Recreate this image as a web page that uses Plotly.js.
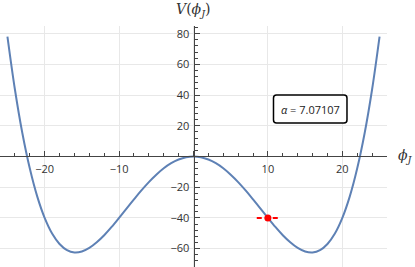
<!DOCTYPE html>
<html>
<head>
<meta charset="utf-8">
<script src="https://cdn.plot.ly/plotly-3.0.1.min.js"></script>
<style>html,body{margin:0;padding:0;background:#fff;}#plot{width:415px;height:267px;}</style>
</head>
<body>
<div id="plot"></div>
<script>
// Potential curve samples
const phiValues = [-25,-24,-23,-22,-21,-20,-19,-18,-17,-16,-15,-14,-13,-12,-11,-10,-9,-8,-7,-6,-5,-4,-3,-2,-1,0,
  1,2,3,4,5,6,7,8,9,10,11,12,13,14,15,16,17,18,19,20,21,22,23,24,25];
const vValues = [78.1,43.8,15.3,-7.7,-26.0,-40.0,-50.2,-57.0,-61.0,-62.5,-61.9,-59.6,-55.9,-51.3,-45.9,-40.0,-33.9,-27.9,-22.1,-16.7,-11.9,-7.7,-4.4,-2.0,-0.5,0,
  -0.5,-2.0,-4.4,-7.7,-11.9,-16.7,-22.1,-27.9,-33.9,-40.0,-45.9,-51.3,-55.9,-59.6,-61.9,-62.5,-61.0,-57.0,-50.2,-40.0,-26.0,-7.7,15.3,43.8,78.1];
// Marked point and its dashed level marker
const pointPhi = [10];
const pointV = [-40];
const dashPhi = [8.5, 11.5];
const dashV = [-40, -40];
// Ticks
const xTickVals = [-20,-10,0,10,20];
const xTickText = ['\u221220','\u221210','','10','20'];
const yTickVals = [-60,-40,-20,0,20,40,60,80];
const yTickText = ['\u221260','\u221240','\u221220','','20','40','60','80'];
const alphaLabel = '<i>\u03b1</i> = 7.07107';

const xRange = [-26, 26];
const yRange = [-72, 85];

const traces = [
  {x: phiValues, y: vValues, type: 'scatter', mode: 'lines',
   line: {color: '#5e81b5', width: 2, shape: 'spline'}, hoverinfo: 'skip'},
  {x: dashPhi, y: dashV, type: 'scatter', mode: 'lines',
   line: {color: '#ff0000', width: 2, dash: '5px,3px'}, hoverinfo: 'skip'},
  {x: pointPhi, y: pointV, type: 'scatter', mode: 'markers',
   marker: {color: '#ff0000', size: 7}, hoverinfo: 'skip'}
];

const axisCommon = {
  showline: true, linecolor: '#444', linewidth: 1,
  ticks: 'inside', ticklen: 5, tickwidth: 1, tickcolor: '#444',
  showgrid: true, gridcolor: '#e8e8e8', gridwidth: 1,
  zeroline: false, tickmode: 'array',
  tickfont: {family: 'Open Sans, sans-serif', size: 11, color: '#333'},
  anchor: 'free', fixedrange: true
};

const layout = {
  width: 415, height: 267,
  margin: {l: 0, r: 28, t: 26, b: 0},
  paper_bgcolor: '#fff', plot_bgcolor: '#fff',
  showlegend: false,
  xaxis: Object.assign({}, axisCommon, {
    range: xRange, tickvals: xTickVals, ticktext: xTickText,
    position: (0 - yRange[0]) / (yRange[1] - yRange[0]),
    ticklabelstandoff: 2,
    minor: {tickmode: 'linear', tick0: 0, dtick: 2, ticks: 'inside', ticklen: 3, tickcolor: '#444', showgrid: false}
  }),
  yaxis: Object.assign({}, axisCommon, {
    range: yRange, tickvals: yTickVals, ticktext: yTickText,
    position: (0 - xRange[0]) / (xRange[1] - xRange[0]),
    ticklabelstandoff: 2,
    minor: {tickmode: 'linear', tick0: 0, dtick: 4, ticks: 'inside', ticklen: 3, tickcolor: '#444', showgrid: false}
  }),
  shapes: [
    {type: 'path', xref: 'paper', yref: 'paper',
     path: 'M 0.7145 0.5975 L 0.8889 0.5975 Q 0.8966 0.5975 0.8966 0.610 L 0.8966 0.7012 Q 0.8966 0.7137 0.8889 0.7137 L 0.7145 0.7137 Q 0.7067 0.7137 0.7067 0.7012 L 0.7067 0.610 Q 0.7067 0.5975 0.7145 0.5975 Z',
     line: {color: '#000', width: 1.5}, fillcolor: '#fff'}
  ],
  annotations: [
    {xref: 'paper', yref: 'paper', x: 0.8016, y: 0.6556, text: alphaLabel, showarrow: false,
     font: {family: 'Open Sans, sans-serif', size: 11, color: '#222'}, xanchor: 'center', yanchor: 'middle'},
    {xref: 'paper', yref: 'paper', x: 0.5, y: 1, yshift: 16, text: '<i>V</i>(<i>\u03d5</i><sub><i>J</i></sub>)', showarrow: false,
     font: {family: 'DejaVu Serif, serif', size: 14, color: '#333'}, xanchor: 'center', yanchor: 'middle'},
    {xref: 'paper', yref: 'paper', x: 1, xshift: 18, y: (0 - yRange[0]) / (yRange[1] - yRange[0]), text: '<i>\u03d5</i><sub><i>J</i></sub>', showarrow: false,
     font: {family: 'DejaVu Serif, serif', size: 14, color: '#333'}, xanchor: 'center', yanchor: 'middle'}
  ]
};

Plotly.newPlot('plot', traces, layout, {displayModeBar: false, staticPlot: true});
</script>
</body>
</html>
